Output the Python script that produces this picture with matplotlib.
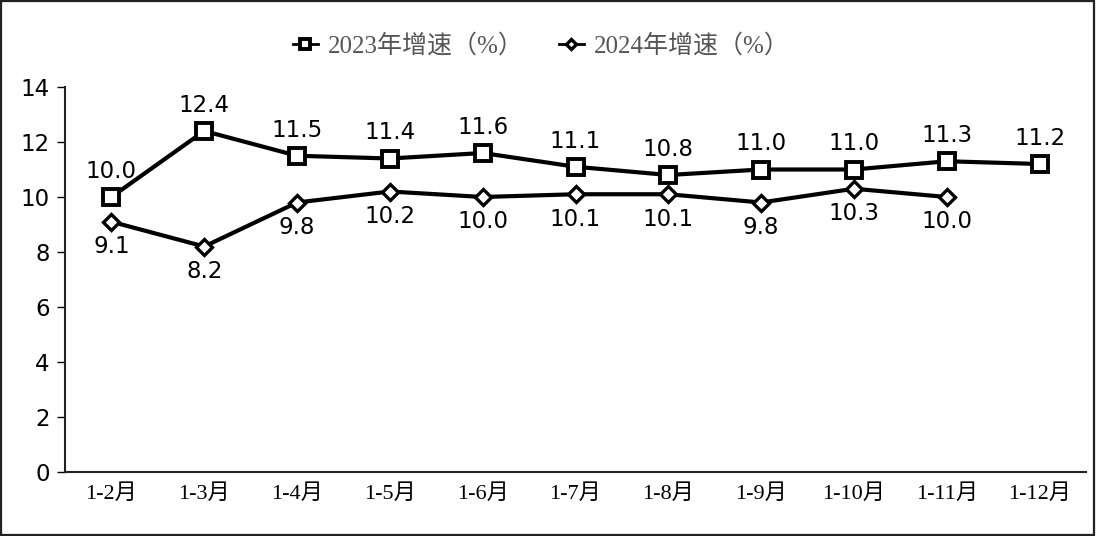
import matplotlib
matplotlib.use("Agg")
import matplotlib.pyplot as plt
from matplotlib.patches import Rectangle

categories = ["1-2月", "1-3月", "1-4月", "1-5月", "1-6月", "1-7月", "1-8月", "1-9月", "1-10月", "1-11月", "1-12月"]
growth_2023 = [10.0, 12.4, 11.5, 11.4, 11.6, 11.1, 10.8, 11.0, 11.0, 11.3, 11.2]
growth_2024 = [9.1, 8.2, 9.8, 10.2, 10.0, 10.1, 10.1, 9.8, 10.3, 10.0]
label_2023 = "2023年增速（%）"
label_2024 = "2024年增速（%）"
yticks = [0, 2, 4, 6, 8, 10, 12, 14]

serif = ["Liberation Serif", "Noto Sans CJK SC", "DejaVu Sans"]
sans = ["DejaVu Sans"]

fig = plt.figure(figsize=(10.96, 5.36), dpi=100)
fig.patches.append(Rectangle((0.001, 0.002), 0.997, 0.996, transform=fig.transFigure,
                             fill=False, edgecolor="#222222", linewidth=1.6))
ax = fig.add_axes([65/1096, 1-472/536, (1086-65)/1096, (472-87)/536])

x23 = list(range(len(growth_2023)))
x24 = list(range(len(growth_2024)))
ax.plot(x23, growth_2023, color="black", linewidth=3, marker="s", markersize=11,
        markerfacecolor="white", markeredgecolor="black", markeredgewidth=2.8, label=label_2023)
ax.plot(x24, growth_2024, color="black", linewidth=3, marker="D", markersize=8,
        markerfacecolor="white", markeredgecolor="black", markeredgewidth=2.4, label=label_2024)

for xi, v in zip(x23, growth_2023):
    ax.annotate(f"{v:.1f}", (xi, v), xytext=(0, 18.5), textcoords="offset points",
                ha="center", va="center", fontsize=16.5, family=sans)
for xi, v in zip(x24, growth_2024):
    ax.annotate(f"{v:.1f}", (xi, v), xytext=(0, -18), textcoords="offset points",
                ha="center", va="center", fontsize=16.5, family=sans)

ax.set_xlim(-0.5, len(categories) - 0.5)
ax.set_ylim(0, 14)
ax.set_yticks(yticks)
ax.set_yticklabels([str(t) for t in yticks], fontsize=16.5, family=sans)
ax.set_xticks(range(len(categories)))
ax.set_xticklabels(categories, fontsize=16, family=serif)
ax.tick_params(axis="x", length=0, pad=9)
ax.tick_params(axis="y", length=6, width=1, pad=5, direction="out")
for s in ["top", "right"]:
    ax.spines[s].set_visible(False)
for s in ["left", "bottom"]:
    ax.spines[s].set_linewidth(1.5)
    ax.spines[s].set_color("#222222")

h1, l1 = ax.get_legend_handles_labels()
leg = fig.legend(h1, l1, loc="center", bbox_to_anchor=(541/1096, 1-46/536), ncol=2, frameon=False,
                 prop={"family": serif, "size": 18}, handlelength=1.0, columnspacing=1.4,
                 markerscale=0.6, handletextpad=0.4)
for t in leg.get_texts():
    t.set_color("#555555")
for h in leg.legend_handles:
    h.set_linewidth(2)

fig.savefig("out.png", dpi=100)
